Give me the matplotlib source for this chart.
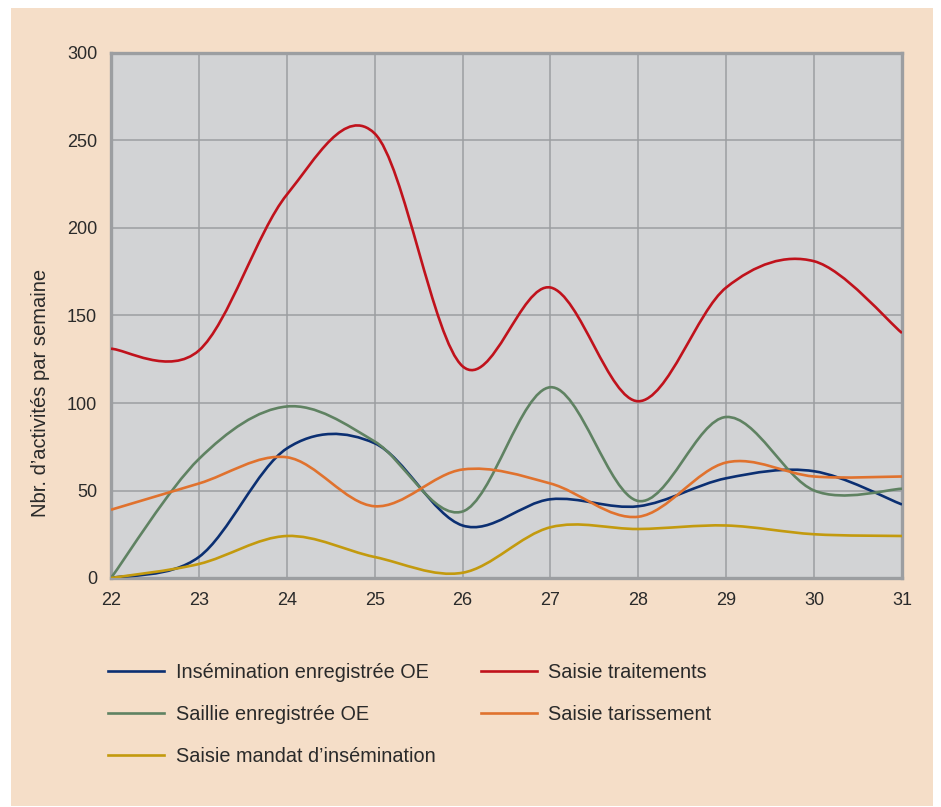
import matplotlib.pyplot as plt
from matplotlib.path import Path
from matplotlib.patches import PathPatch, Rectangle
from matplotlib.lines import Line2D
import numpy as np

plt.rcParams['font.family'] = ['Liberation Sans', 'DejaVu Sans']

# Weeks on the x axis
weeks = [22, 23, 24, 25, 26, 27, 28, 29, 30, 31]

# Weekly activity counts
insemination = [0, 12, 74, 77, 30, 45, 41, 57, 61, 42]
traitements = [131, 130, 219, 254, 121, 166, 101, 166, 181, 140]
saillie = [0, 68, 98, 78, 38, 109, 44, 92, 50, 51]
tarissement = [39, 54, 69, 41, 62, 54, 35, 66, 58, 58]
mandat = [0, 8, 24, 12, 3, 29, 28, 30, 25, 24]

labels = ['Insémination enregistrée OE', 'Saisie traitements',
          'Saillie enregistrée OE', 'Saisie tarissement',
          'Saisie mandat d\u2019insémination']
colors = ['#0B2F72', '#C0121C', '#5F8262', '#E0722E', '#C39A0E']

yticks = [0, 50, 100, 150, 200, 250, 300]


def smooth_path(xs, ys):
    # Catmull-Rom style bezier through every point (like a spreadsheet "smoothed line")
    pts = np.column_stack([xs, ys]).astype(float)
    n = len(pts)
    verts = [pts[0]]
    codes = [Path.MOVETO]
    for i in range(n - 1):
        p0 = pts[i - 1] if i > 0 else pts[i]
        p1 = pts[i]
        p2 = pts[i + 1]
        p3 = pts[i + 2] if i + 2 < n else pts[i + 1]
        c1 = p1 + (p2 - p0) / 6.0
        c2 = p2 - (p3 - p1) / 6.0
        verts += [c1, c2, p2]
        codes += [Path.CURVE4] * 3
    return Path(verts, codes)


fig = plt.figure(figsize=(9.41, 8.07), dpi=100, facecolor='white')
# peach panel behind everything
fig.patches.append(Rectangle((11 / 941, 1 - 806 / 807), 922 / 941, 798 / 807,
                             transform=fig.transFigure, facecolor='#F5DEC8',
                             edgecolor='none', zorder=-10))

ax = fig.add_axes([111 / 941, 1 - 578 / 807, 791 / 941, 525 / 807])
ax.set_facecolor('#D2D3D5')

series = [insemination, traitements, saillie, tarissement, mandat]
for vals, col in zip(series, colors):
    ax.add_patch(PathPatch(smooth_path(weeks, vals), facecolor='none',
                           edgecolor=col, linewidth=1.9, zorder=3))

ax.set_xlim(22, 31)
ax.set_ylim(0, 300)
ax.set_xticks(weeks)
ax.set_yticks(yticks)
ax.grid(True, color='#9C9EA1', linewidth=1.1, zorder=1)
ax.set_axisbelow(True)
ax.tick_params(length=0, labelsize=13, labelcolor='#2A2A2A')
ax.tick_params(axis='x', pad=10)
ax.tick_params(axis='y', pad=10)
for sp in ax.spines.values():
    sp.set_color('#9C9EA1')
    sp.set_linewidth(2.4)

ax.set_ylabel('Nbr. d\u2019activités par semaine', fontsize=14.5, color='#2A2A2A')
ax.yaxis.set_label_coords(-0.077, 0.352)

# legend: first column blue/green/yellow, second red/orange
order = [0, 2, 4, 1, 3]
handles = [Line2D([], [], color=colors[i], linewidth=1.9) for i in order]
fig.legend(handles, [labels[i] for i in order], ncol=2, frameon=False,
           loc='upper left', bbox_to_anchor=(108 / 941, 1 - 663 / 807),
           borderaxespad=0, borderpad=0,
           fontsize=14.3, handlelength=2.8, handletextpad=0.6,
           columnspacing=2.3, labelspacing=1.16, labelcolor='#2A2A2A')

plt.savefig('out.png', dpi=100, facecolor='white')
